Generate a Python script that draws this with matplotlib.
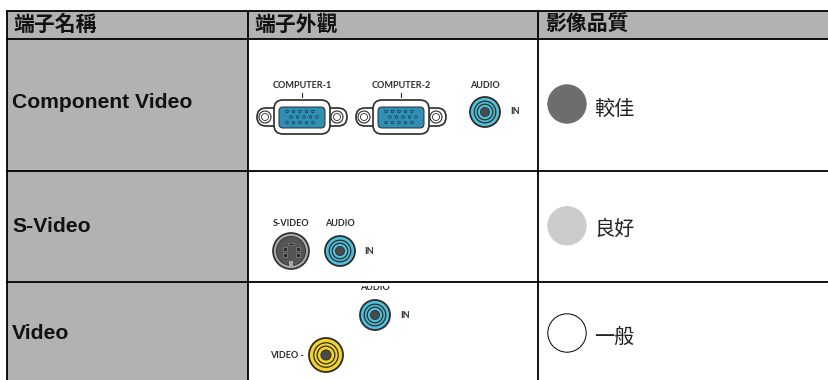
import matplotlib
matplotlib.use("Agg")
import matplotlib.pyplot as plt
from matplotlib.patches import Circle, FancyBboxPatch, Rectangle

headers = ["端子名稱", "端子外觀", "影像品質"]
connectors = ["Component Video", "S-Video", "Video"]
quality = ["較佳", "良好", "一般"]
quality_fill = ["#6d6d6d", "#cccccc", "#ffffff"]

CJK = ["Noto Sans CJK TC", "DejaVu Sans"]
BLUE = "#4fc0dc"
GREY = "#b2b2b2"
DARK = "#2b2b2b"

fig = plt.figure(figsize=(8.29, 3.8), dpi=100)
ax = fig.add_axes([0, 0, 1, 1])
ax.set_xlim(0, 829)
ax.set_ylim(380, 0)
ax.axis("off")

col_x = [7, 248.3, 537.7, 829]
row_y = [10.5, 38.7, 170.8, 282, 380]
row_text_y = [108.3, 231.7, 339]
quality_y = [104, 225.8, 333]
quality_text_y = [114.5, 235, 342.5]

# grey fills
ax.add_patch(Rectangle((col_x[0], row_y[0]), col_x[3] - col_x[0], row_y[1] - row_y[0], color=GREY, lw=0))
ax.add_patch(Rectangle((col_x[0], row_y[1]), col_x[1] - col_x[0], row_y[4] - row_y[1], color=GREY, lw=0))

# rules
for y in row_y[:4]:
    ax.plot([col_x[0] - 1, col_x[3]], [y, y], color="black", lw=1.3, solid_capstyle="butt", zorder=3)
for x in col_x[:3]:
    ax.plot([x, x], [row_y[0], row_y[4]], color="black", lw=1.3, solid_capstyle="butt", zorder=3)

for x, h in zip([13, 254, 545], headers):
    ax.text(x, 31, h, family=CJK, fontsize=15, fontweight="bold", va="baseline", ha="left", color="#111111", zorder=4)
for y, name in zip(row_text_y, connectors):
    ax.text(12.3, y, name, family="Liberation Sans", fontsize=15.2, fontweight="bold", va="baseline", ha="left", color="#111111", zorder=4)
for y, ty, q, c in zip(quality_y, quality_text_y, quality, quality_fill):
    ax.add_patch(Circle((567, y), 19.2, fc=c, ec="black" if c == "#ffffff" else c, lw=0.7))
    ax.text(594, ty, q, family=CJK, fontsize=14.5, va="baseline", ha="left", color="#222222")


def small(x, y, s, ha="center", clip=None):
    t = ax.text(x, y, s, family="Lato", fontsize=6.5, fontweight="bold", ha=ha, va="center", color=DARK)
    if clip is not None:
        t.set_clip_path(clip)
        t.set_clip_on(True)
    return t


def rings(x, y, r, fill, hole):
    ax.add_patch(Circle((x, y), r, fc=fill, ec=DARK, lw=1.3))
    ax.add_patch(Circle((x, y), r * 0.72, fc="none", ec=DARK, lw=0.9))
    ax.add_patch(Circle((x, y), r * 0.52, fc="none", ec=DARK, lw=0.9))
    ax.add_patch(Circle((x, y), r * 0.3, fc=hole, ec=DARK, lw=0.6))


def vga(x, y, label):
    small(x, 85, label)
    ax.plot([x, x], [93, 97], color=DARK, lw=0.8)
    ax.add_patch(FancyBboxPatch((x - 45, y - 9), 90, 18, boxstyle="round,pad=0,rounding_size=9", fc="white", ec=DARK, lw=1.2))
    for dx in (-37, 35):
        ax.add_patch(Circle((x + dx, y), 6, fc="white", ec=DARK, lw=0.8))
        ax.add_patch(Circle((x + dx, y), 3.5, fc="white", ec=DARK, lw=0.6))
    ax.add_patch(FancyBboxPatch((x - 28, y - 17), 56, 34, boxstyle="round,pad=0,rounding_size=9", fc="white", ec=DARK, lw=1.2, zorder=3))
    ax.add_patch(FancyBboxPatch((x - 23, y - 10), 46, 21, boxstyle="round,pad=0,rounding_size=4", fc="#2f8fb5", ec=DARK, lw=0.7, zorder=3))
    for py, off in zip([-5.5, 0, 5.5], [-15, -11, -15]):
        for k in range(5):
            ax.add_patch(Circle((x + off + k * 6.5, y + py), 1.3, fc="#2f8fb5", ec="#123", lw=0.4, zorder=4))


def svideo(x, y):
    ax.add_patch(Circle((x, y), 18, fc="#a8a8a8", ec=DARK, lw=1.2))
    ax.add_patch(Circle((x, y), 14.5, fc="#555555", ec=DARK, lw=0.6))
    for dx, dy in [(-6, -2.5), (7, -2.5), (-6, 4), (7, 4)]:
        ax.add_patch(Rectangle((x + dx - 2, y + dy - 2), 4, 4, fc="#2b2b2b", ec="#999999", lw=0.4))
    ax.add_patch(Rectangle((x - 3, y - 8), 6, 2, fc="#2b2b2b", ec="#999999", lw=0.4))
    ax.add_patch(Rectangle((x - 2, y + 10), 4, 5, fc="#a8a8a8", lw=0))


# row 1
vga(302, 117, "COMPUTER-1")
vga(401, 117, "COMPUTER-2")
small(485, 85, "AUDIO")
rings(485, 112, 15, BLUE, "#4a4a4a")
small(515, 112, "IN")

# row 2
small(291, 224, "S-VIDEO")
svideo(291, 251)
small(340, 224, "AUDIO")
rings(340, 251, 15, BLUE, "#4a4a4a")
small(369, 251, "IN")

# row 3, the label is cut off by the top of the cell
clip = Rectangle((249, 286), 288, 94, transform=ax.transData)
small(375, 288, "AUDIO", clip=clip)
rings(375, 315, 15, BLUE, "#4a4a4a")
small(405, 315, "IN")
small(287, 355, "VIDEO -")
rings(326, 355, 17, "#f5d327", "#4a4a4a")

fig.savefig("out.png", dpi=100)
